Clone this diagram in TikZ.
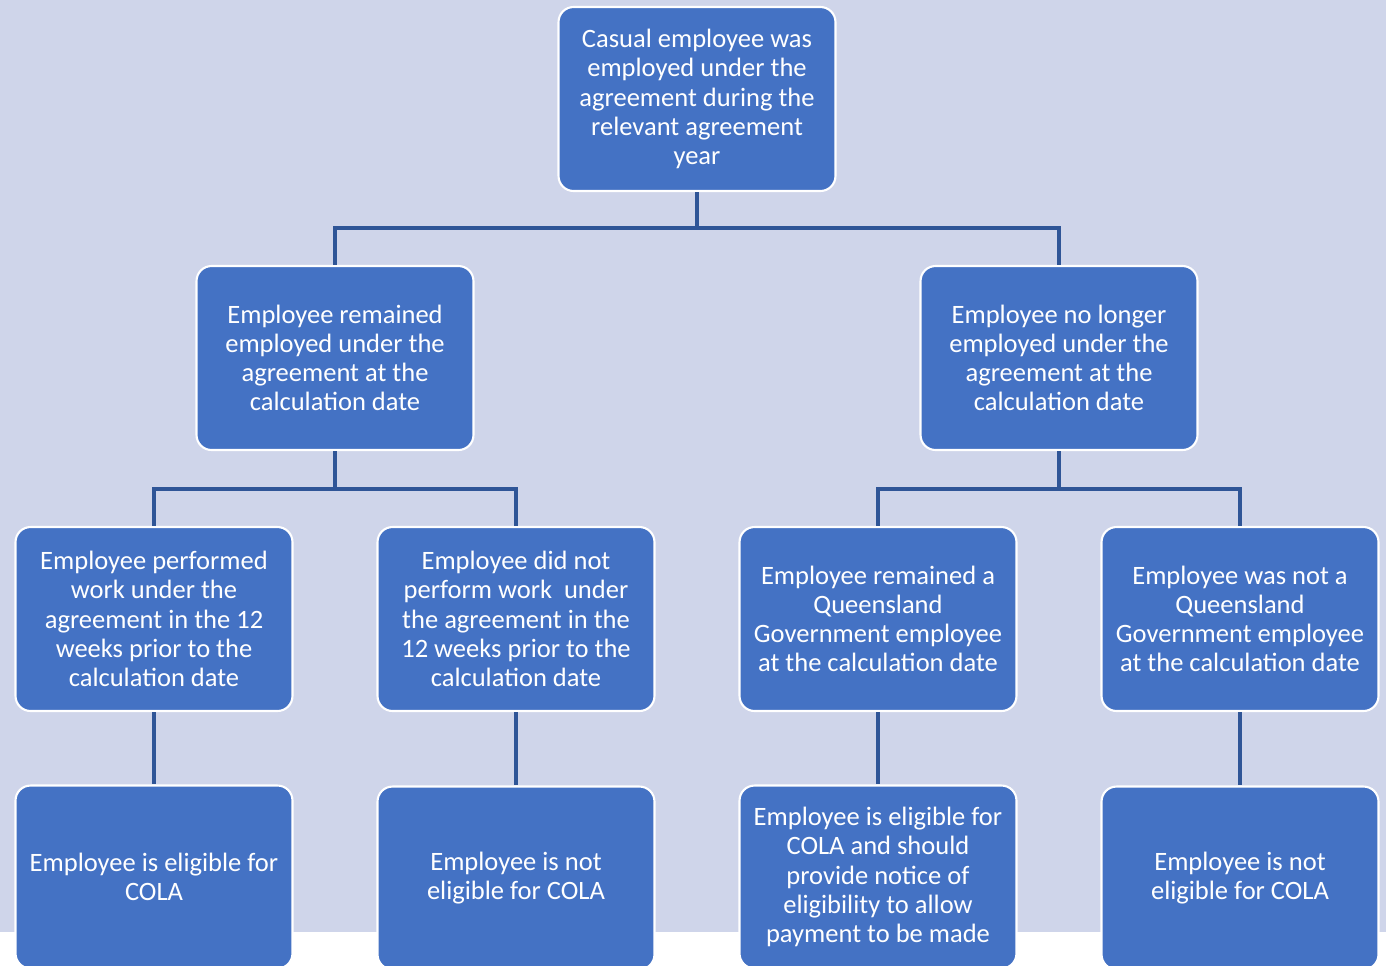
\documentclass[tikz,border=0pt]{standalone}
\usepackage{fontspec}
\setmainfont{Carlito}
\usetikzlibrary{positioning}

\definecolor{bgblue}{HTML}{CFD5EA}
\definecolor{boxblue}{HTML}{4472C4}
\definecolor{linkblue}{HTML}{2F5597}

\tikzset{
  box/.style={draw=white,line width=1.2pt,rounded corners=0.3cm,fill=boxblue,text=white,
    minimum width=5.54cm,minimum height=3.68cm,align=center,font=\fontsize{15.1}{16.6}\selectfont,inner sep=2pt},
  lastbox/.style={box,minimum height=3.66cm},
  link/.style={draw=linkblue,line width=1.9pt}
}

\begin{document}
\begin{tikzpicture}[x=0.02cm,y=-0.02cm]
\useasboundingbox (0,0) rectangle (1386,965);
\fill[bgblue] (0,0) rectangle (1386,932);

% top of the tree
\node[box] (top) at (697,99) {Casual employee was\\employed under the\\agreement during the\\relevant agreement\\year};

% second level
\node[box] (stay) at (335,358) {Employee remained\\employed under the\\agreement at the\\calculation date};
\node[box] (left) at (1059,358) {Employee no longer\\employed under the\\agreement at the\\calculation date};

% third level
\node[box] (work) at (154,619) {Employee performed\\work under the\\agreement in the 12\\weeks prior to the\\calculation date};
\node[box] (nowork) at (516,619) {Employee did not\\perform work~ under\\the agreement in the\\12 weeks prior to the\\calculation date};
\node[box] (qgov) at (878,619) {Employee remained a\\Queensland\\Government employee\\at the calculation date};
\node[box] (noqgov) at (1240,619) {Employee was not a\\Queensland\\Government employee\\at the calculation date};

% outcomes
\node[lastbox] (elig1) at (154,877) {Employee is eligible for\\COLA};
\node[lastbox] (nelig1) at (516,878) {Employee is not\\eligible for COLA};
\node[lastbox] (elig2) at (878,877) {Employee is eligible for\\COLA and should\\provide notice of\\eligibility to allow\\payment to be made};
\node[lastbox] (nelig2) at (1240,878) {Employee is not\\eligible for COLA};

% connectors
\coordinate (bus0) at (697,228);
\coordinate (bus1) at (335,489);
\coordinate (bus2) at (1059,489);
\draw[link] (top.south) -- (bus0) -| (stay.north);
\draw[link] (bus0) -| (left.north);
\draw[link] (stay.south) -- (bus1) -| (work.north);
\draw[link] (bus1) -| (nowork.north);
\draw[link] (left.south) -- (bus2) -| (qgov.north);
\draw[link] (bus2) -| (noqgov.north);
\draw[link] (work.south) -- (elig1.north);
\draw[link] (nowork.south) -- (nelig1.north);
\draw[link] (qgov.south) -- (elig2.north);
\draw[link] (noqgov.south) -- (nelig2.north);
\end{tikzpicture}
\end{document}
